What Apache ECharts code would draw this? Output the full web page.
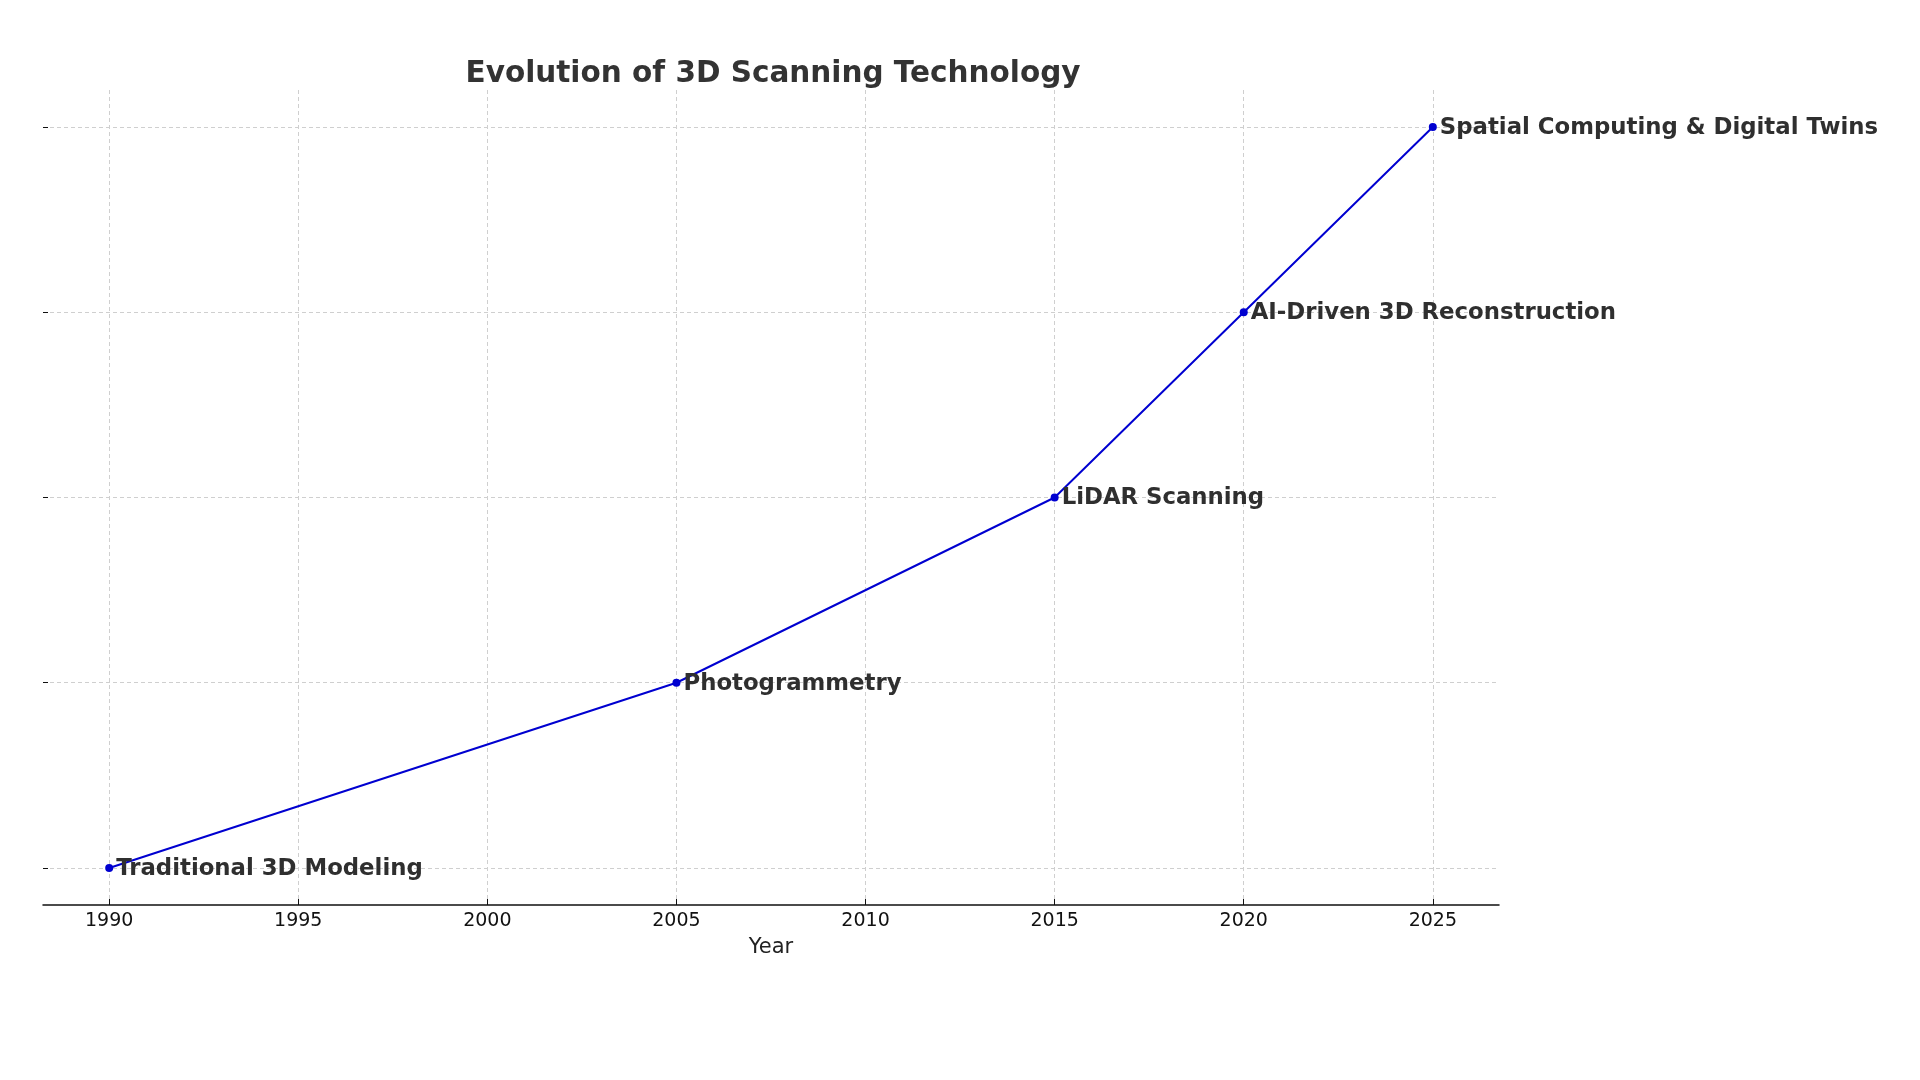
<!DOCTYPE html>
<html>
<head>
<meta charset="utf-8">
<script src="https://cdn.jsdelivr.net/npm/echarts@6/dist/echarts.min.js"></script>
<style>
    html, body { margin: 0; padding: 0; background: #fff; }
    #main { width: 1920px; height: 1080px; }
</style>
</head>
<body>
<div id="main"></div>
<script>
// milestones of 3D scanning, one per year
const years = [1990, 2005, 2015, 2020, 2025];
const milestones = [
    'Traditional 3D Modeling',
    'Photogrammetry',
    'LiDAR Scanning',
    'AI-Driven 3D Reconstruction',
    'Spatial Computing & Digital Twins'
];
const levels = [0, 1, 2, 3, 4];
const yearTicks = [1990, 1995, 2000, 2005, 2010, 2015, 2020, 2025];
const levelTicks = [0, 1, 2, 3, 4];

const font = 'DejaVu Sans';
const myChart = echarts.init(document.getElementById('main'));

const option = {
    animation: false,
    title: {
        text: 'Evolution of 3D Scanning Technology',
        left: 768,
        top: 54,
        textAlign: 'center',
        textStyle: { fontFamily: font, fontSize: 29.5, fontWeight: 'bold', color: '#333' }
    },
    grid: { left: 43, right: 421, top: 90, bottom: 175 },
    xAxis: {
        type: 'value',
        min: 1988.25,
        max: 2026.75,
        name: 'Year',
        nameLocation: 'middle',
        nameGap: 32,
        nameTextStyle: { fontFamily: font, fontSize: 21, color: '#222' },
        axisLine: { show: true, onZero: false, lineStyle: { color: '#111', width: 1.5 } },
        axisTick: { show: true, inside: true, length: 6, customValues: yearTicks, lineStyle: { color: '#111' } },
        axisLabel: {
            customValues: yearTicks,
            formatter: v => String(v),
            fontFamily: font,
            fontSize: 19,
            color: '#111',
            margin: 7
        },
        splitLine: { show: true, customValues: yearTicks, lineStyle: { color: '#cfcfcf', type: [4, 3], width: 1 } }
    },
    yAxis: {
        type: 'value',
        min: -0.2,
        max: 4.2,
        axisLine: { show: false },
        axisTick: { show: true, inside: true, length: 5, customValues: levelTicks, lineStyle: { color: '#111' } },
        axisLabel: { show: false, customValues: levelTicks },
        splitLine: { show: true, customValues: levelTicks, lineStyle: { color: '#cfcfcf', type: [4, 3], width: 1 } }
    },
    series: [{
        type: 'line',
        clip: false,
        data: years.map((y, i) => [y, levels[i]]),
        symbol: 'circle',
        symbolSize: 8,
        itemStyle: { color: '#0000d0' },
        lineStyle: { color: '#0000d0', width: 2 },
        label: {
            show: true,
            position: 'right',
            distance: 3,
            offset: [0, 1],
            formatter: p => milestones[p.dataIndex],
            fontFamily: font,
            fontSize: 22.8,
            fontWeight: 'bold',
            color: '#2f2f2f'
        }
    }]
};

myChart.setOption(option);
</script>
</body>
</html>
